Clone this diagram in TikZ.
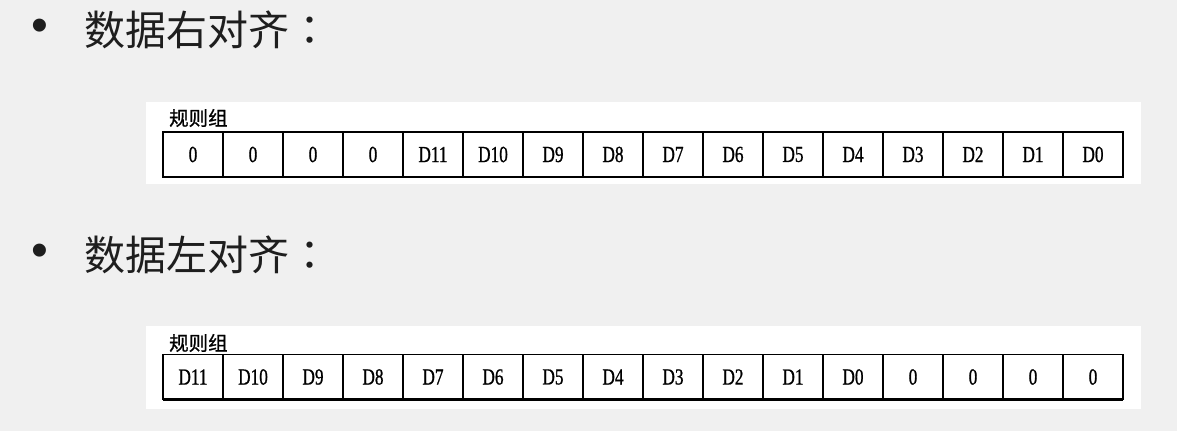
\documentclass[tikz,border=0pt]{standalone}
\usepackage{fontspec}
\setmainfont{Liberation Serif}
\newfontfamily\cjk{Noto Sans CJK SC}
\newfontfamily\cjkjp{Noto Sans CJK JP}
\newfontfamily\cjkbold[FakeBold=0.9]{Noto Sans CJK SC}
\newfontfamily\cellfont[FakeStretch=0.75,FakeBold=0.8]{Liberation Serif}
\newfontfamily\bulletfont{Liberation Sans}
\definecolor{pagegray}{RGB}{240,240,240}
\definecolor{inkgray}{RGB}{30,30,30}
\tikzset{
  heading/.style={anchor=west,inner sep=0pt,text=inkgray,font=\cjk\fontsize{41}{41}\selectfont},
  dot/.style={inner sep=0pt,text=inkgray,font=\bulletfont\fontsize{48}{48}\selectfont},
  panel/.style={fill=white,draw=none},
  caption/.style={anchor=west,inner sep=0pt,font=\cjkbold\fontsize{19.5}{19.5}\selectfont},
  cell/.style={draw,line width=1.5pt,minimum width=60pt,minimum height=45pt,inner sep=0pt,outer sep=0pt,font=\cellfont\fontsize{23}{23}\selectfont},
}

\begin{document}
\begin{tikzpicture}[x=1pt,y=-1pt]
        \fill[pagegray] (0,0) rectangle (1177,431);
        \useasboundingbox (0,0) rectangle (1177,431);
        % right aligned
        \node[dot] (b1) at (40,30) {•};
        \node[heading] (h1) at (84,30) {数据右对齐{\cjkjp ：}};
        \fill[panel] (146,102) rectangle (1141,184);
        \node[caption] (c1) at (169,118) {规则组};
        \foreach \t [count=\i from 0] in {0,0,0,0,D11,D10,D9,D8,D7,D6,D5,D4,D3,D2,D1,D0}{
            \node[cell] (r\i) at (193+60*\i,154.5) {\t};
        }
        \draw[line width=2.6pt] (r0.south west) -- (r15.south east);
        % left aligned
        \node[dot] (b2) at (40,255) {•};
        \node[heading] (h2) at (84,255) {数据左对齐{\cjkjp ：}};
        \fill[panel] (146,326) rectangle (1141,409);
        \node[caption] (c2) at (169,343) {规则组};
        \foreach \t [count=\i from 0] in {D11,D10,D9,D8,D7,D6,D5,D4,D3,D2,D1,D0,0,0,0,0}{
            \node[cell] (l\i) at (193+60*\i,377) {\t};
        }
        \draw[line width=2.6pt] (l0.south west) -- (l15.south east);
\end{tikzpicture}
\end{document}
